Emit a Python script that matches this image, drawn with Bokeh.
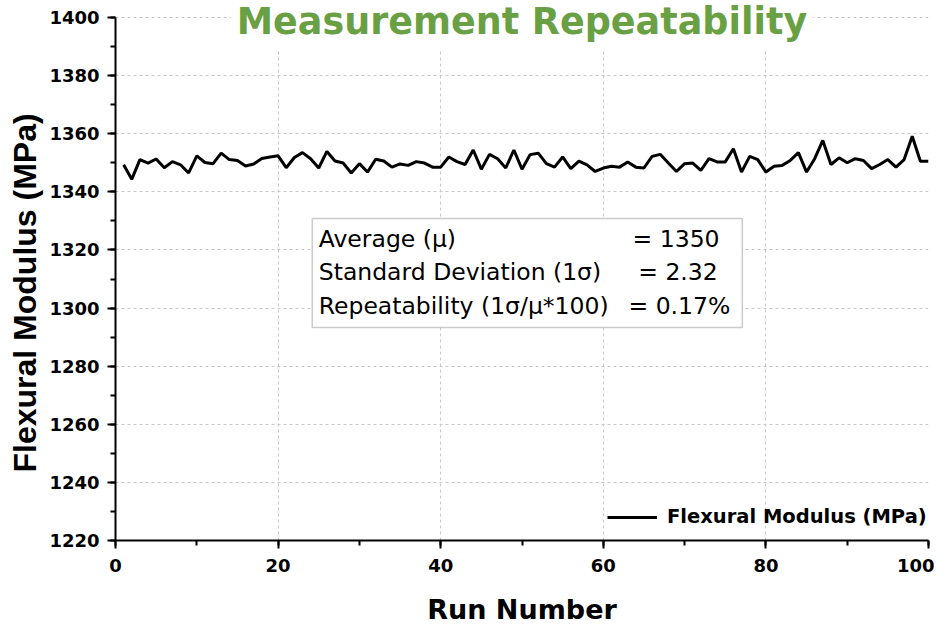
from bokeh.plotting import figure
from bokeh.models import (Range1d, SingleIntervalTicker, Label, BoxAnnotation,
                          Legend, LegendItem, Title)
from bokeh.embed import file_html
from bokeh.resources import INLINE

# ---- data ----
runs = list(range(1, 101))
modulus = [
    1349.3, 1344.3, 1351.1, 1349.9, 1351.3, 1348.3, 1350.4, 1349.3, 1346.5, 1352.4,
    1350.1, 1349.7, 1353.3, 1351.1, 1350.8, 1348.9, 1349.6, 1351.5, 1352.0, 1352.4,
    1348.3, 1351.8, 1353.5, 1351.4, 1348.2, 1353.9, 1350.6, 1349.9, 1346.5, 1349.7,
    1346.8, 1351.2, 1350.6, 1348.5, 1349.6, 1349.1, 1350.4, 1349.9, 1348.5, 1348.5,
    1352.0, 1350.4, 1349.4, 1354.4, 1347.8, 1352.9, 1351.4, 1348.2, 1354.4, 1347.8,
    1352.8, 1353.3, 1349.7, 1348.5, 1352.0, 1348.0, 1350.6, 1349.3, 1347.0, 1348.2,
    1348.8, 1348.5, 1350.3, 1348.5, 1348.2, 1352.2, 1352.9, 1349.9, 1347.0, 1349.7,
    1349.9, 1347.4, 1351.4, 1350.3, 1350.3, 1354.8, 1346.8, 1352.2, 1351.1, 1346.8,
    1348.8, 1349.1, 1350.8, 1353.5, 1346.8, 1351.4, 1357.7, 1349.4, 1351.7, 1350.0,
    1351.4, 1350.8, 1348.0, 1349.4, 1351.1, 1348.5, 1351.1, 1359.1, 1350.5, 1350.5,
]
series_name = "Flexural Modulus (MPa)"
stat_labels = ["Average (\u03bc)", "Standard Deviation (1\u03c3)", "Repeatability (1\u03c3/\u03bc*100)"]
stat_values = ["= 1350", "= 2.32", "= 0.17%"]

title_text = "Measurement Repeatability"
x_title = "Run Number"
y_title = "Flexural Modulus (MPa)"

X_MIN, X_MAX = 0, 100
Y_MIN, Y_MAX = 1220, 1400

FRAME_H = 540
PX_PER_UNIT = 523 / (Y_MAX - Y_MIN)
Y_TOP = Y_MAX + 17 / PX_PER_UNIT  # headroom inside frame for the title

p = figure(frame_width=813, frame_height=FRAME_H, output_backend="svg", toolbar_location=None,
           x_range=Range1d(X_MIN, X_MAX), y_range=Range1d(Y_MIN, Y_TOP),
           min_border_left=115, min_border_right=6, min_border_top=0, min_border_bottom=70)
p.outline_line_color = None
p.background_fill_color = "white"

line = p.line(runs, modulus, line_color="black", line_width=3)

for ax in (p.xaxis[0], p.yaxis[0]):
    ax.ticker = SingleIntervalTicker(interval=20, num_minor_ticks=2)
    ax.axis_line_width = 2
    ax.major_tick_line_width = 2
    ax.minor_tick_line_width = 2
    ax.major_tick_out = 8
    ax.major_tick_in = 0
    ax.minor_tick_out = 5
    ax.minor_tick_in = 0
    ax.major_label_text_font = "DejaVu Sans"
    ax.major_label_text_font_style = "bold"
    ax.major_label_text_font_size = "18px"
    ax.major_label_text_color = "black"
    ax.axis_label_text_font_style = "bold"
    ax.axis_label_text_color = "black"

p.yaxis.bounds = (Y_MIN, Y_MAX)
p.xaxis.axis_label = x_title
p.xaxis.axis_label_text_font = "DejaVu Sans"
p.xaxis.axis_label_text_font_size = "27px"
p.xaxis.major_label_standoff = 10
p.xaxis.axis_label_standoff = 19
p.yaxis.major_label_standoff = 8

p.grid.grid_line_color = "#c8c8c8"
p.grid.grid_line_dash = "3 3"
p.grid.grid_line_width = 1
p.xgrid.cross_bounds = (Y_MIN, Y_MAX)

# y axis title (sits below the frame centre, as in the reference)
p.add_layout(Title(text=y_title, align="left", offset=68, standoff=8,
                   text_font="Liberation Sans", text_font_style="bold",
                   text_font_size="32px", text_color="black"), "left")

# stats box
box = BoxAnnotation(left=24.2, right=77.1, bottom=1293.3, top=1330.8,
                    fill_color="white", fill_alpha=1.0,
                    line_color="#555555", line_width=1.5, level="overlay")
p.add_layout(box)
ys = [1323.9, 1312.25, 1300.55]
xs_val = [63.6, 64.3, 63.1]
for lab, val, yy, xv in zip(stat_labels, stat_values, ys, xs_val):
    p.add_layout(Label(x=25.0, y=yy, text=lab, text_font="DejaVu Sans", text_font_size="23.5px",
                       text_baseline="middle", text_color="black", level="overlay"))
    p.add_layout(Label(x=xv, y=yy, text=val, text_font="DejaVu Sans", text_font_size="23.5px",
                       text_baseline="middle", text_color="black", level="overlay"))

# title (white backing hides the grid behind it, as in the reference)
p.add_layout(Label(x=50.0, y=1398.6, text=title_text, text_font="DejaVu Sans",
                   text_font_style="bold", text_font_size="36.5px", text_color="#6aa044",
                   text_align="center", text_baseline="alphabetic", level="overlay",
                   background_fill_color="white", padding=6))

legend = Legend(items=[LegendItem(label=series_name, renderers=[line])],
                location=(492, 12), border_line_color=None, background_fill_alpha=0,
                padding=0, margin=0, glyph_width=50, label_standoff=10,
                label_text_font="DejaVu Sans", label_text_font_style="bold",
                label_text_font_size="19.5px", label_text_color="black")
p.add_layout(legend)

open("out.html", "w").write(file_html(p, INLINE))
